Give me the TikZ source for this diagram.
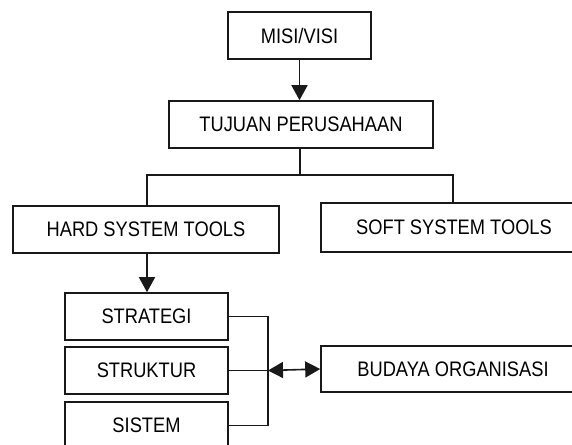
\documentclass[tikz,border=0pt]{standalone}
\usepackage{fontspec}
\setmainfont{Liberation Sans}[FakeStretch=0.87]
\usetikzlibrary{arrows.meta}
\begin{document}
\begin{tikzpicture}[x=1pt,y=-1pt,
  box/.style={draw=black!90,line width=1.6pt,inner sep=0pt,minimum height=47pt,font=\fontsize{21}{25}\selectfont},
  conn/.style={draw=black!90,line width=1.6pt},
  tip/.style={-{Triangle[length=15pt,width=16pt]}},
  dtip/.style={{Triangle[length=15pt,width=16pt]}-{Triangle[length=15pt,width=16pt]}}]
\useasboundingbox (0,0) rectangle (572,444);
\clip (0,0) rectangle (572,444);
\node[box,minimum width=143pt] (misi) at (299.5,35.5) {MISI/VISI};
\node[box,minimum width=264pt] (tujuan) at (301,124.5) {TUJUAN PERUSAHAAN};
\node[box,minimum width=266pt] (hard) at (146,229.5) {HARD SYSTEM TOOLS};
\node[box,minimum width=266pt,minimum height=49pt] (soft) at (454,227.5) {SOFT SYSTEM TOOLS};
\node[box,minimum width=163pt] (strategi) at (146.5,316.5) {STRATEGI};
\node[box,minimum width=163pt] (struktur) at (146.5,370.5) {STRUKTUR};
\node[box,minimum width=163pt] (sistem) at (146.5,425.5) {SISTEM};
\node[box,minimum width=264pt,minimum height=46pt] (budaya) at (453,369) {BUDAYA ORGANISASI};
\coordinate (jt) at (300,175);
\coordinate (jl) at (147,175);
\coordinate (jr) at (453,175);
\coordinate (bx) at (268,370.5);
\draw[conn,tip] (misi.south) -- (misi.south |- tujuan.north);
\draw[conn] (jt |- tujuan.south) -- (jt);
\draw[conn] (jl |- hard.north) -- (jl) -- (jr) -- (jr |- soft.north);
\draw[conn,tip] (jl |- hard.south) -- (jl |- strategi.north);
\draw[conn] (strategi.east) -| (bx) |- (sistem.east);
\draw[conn] (struktur.east) -- (bx);
\draw[conn,dtip] (bx) -- (budaya.west);
\end{tikzpicture}
\end{document}
